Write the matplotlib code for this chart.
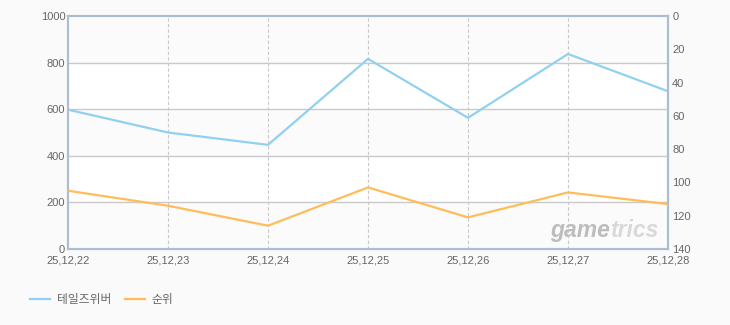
import numpy as np
import matplotlib.pyplot as plt

plt.rcParams['font.family'] = ['Liberation Sans', 'Noto Sans CJK KR', 'DejaVu Sans']

# ================== DATA ===================
dates = ["25,12,22", "25,12,23", "25,12,24", "25,12,25", "25,12,26", "25,12,27", "25,12,28"]
users = [598, 500, 447, 816, 563, 837, 677]      # left axis
ranks = [105, 114, 126, 103, 121, 106, 113]      # right axis (inverted)
left_ticks = [0, 200, 400, 600, 800, 1000]
right_ticks = [0, 20, 40, 60, 80, 100, 120, 140]
series_names = ["테일즈위버", "순위"]

BLUE = "#91d1f0"
ORANGE = "#ffbd5a"
GRID = "#c9c9c9"
TXT = "#666666"
FRAME = "#aabdd3"

fig = plt.figure(figsize=(7.3, 3.25), dpi=100, facecolor="#fafafa")
ax = fig.add_axes([68 / 730, 1 - 249 / 325, 600 / 730, 233 / 325])
ax.set_facecolor("white")

x = np.arange(len(dates))
ax.set_xlim(0, len(dates) - 1)
ax.set_ylim(0, 1000)

# alternating horizontal bands
for i in range(0, 5, 2):
    ax.axhspan(i * 200, i * 200 + 200, color="#fbfbfb", lw=0, zorder=0)
for t in left_ticks[1:-1]:
    ax.axhline(t, color=GRID, lw=1, zorder=1)
for xi in x[1:-1]:
    ax.axvline(xi, color=GRID, lw=0.8, ls=(0, (3, 2)), zorder=1)

ax.set_yticks(left_ticks)
ax.set_xticks(x)
ax.set_xticklabels(dates)
ax.tick_params(length=0, colors=TXT, labelsize=8)
ax.tick_params(axis="y", pad=2)
ax.tick_params(axis="x", pad=4.5)
for s in ax.spines.values():
    s.set_color(FRAME)
    s.set_linewidth(1.5)

ax2 = ax.twinx()
ax2.set_ylim(140, 0)
ax2.set_yticks(right_ticks)
ax2.tick_params(length=0, colors=TXT, labelsize=8, pad=3)
for s in ax2.spines.values():
    s.set_color(FRAME)
    s.set_linewidth(1.5)

l1, = ax.plot(x, users, color=BLUE, lw=1.6, zorder=3, solid_joinstyle="miter")
l2, = ax2.plot(x, ranks, color=ORANGE, lw=1.6, zorder=3, solid_joinstyle="miter")

# watermark
fig.text(550 / 730, 1 - 237 / 325, "game", fontsize=16.5, fontweight="bold", style="italic",
         color="#bdbdbd", ha="left", va="baseline")
fig.text(610 / 730, 1 - 237 / 325, "trics", fontsize=16.5, fontweight="bold", style="italic",
         color="#d9d9d9", ha="left", va="baseline")

# legend
fig.legend([l1, l2], series_names, loc="center left", bbox_to_anchor=(30 / 730, 1 - 300 / 325),
           borderaxespad=0, borderpad=0,
           ncol=2, frameon=False, fontsize=8.5, handlelength=1.7, handletextpad=0.55,
           columnspacing=1.2, labelcolor=TXT)

fig.savefig("out.png", dpi=100, facecolor=fig.get_facecolor())
